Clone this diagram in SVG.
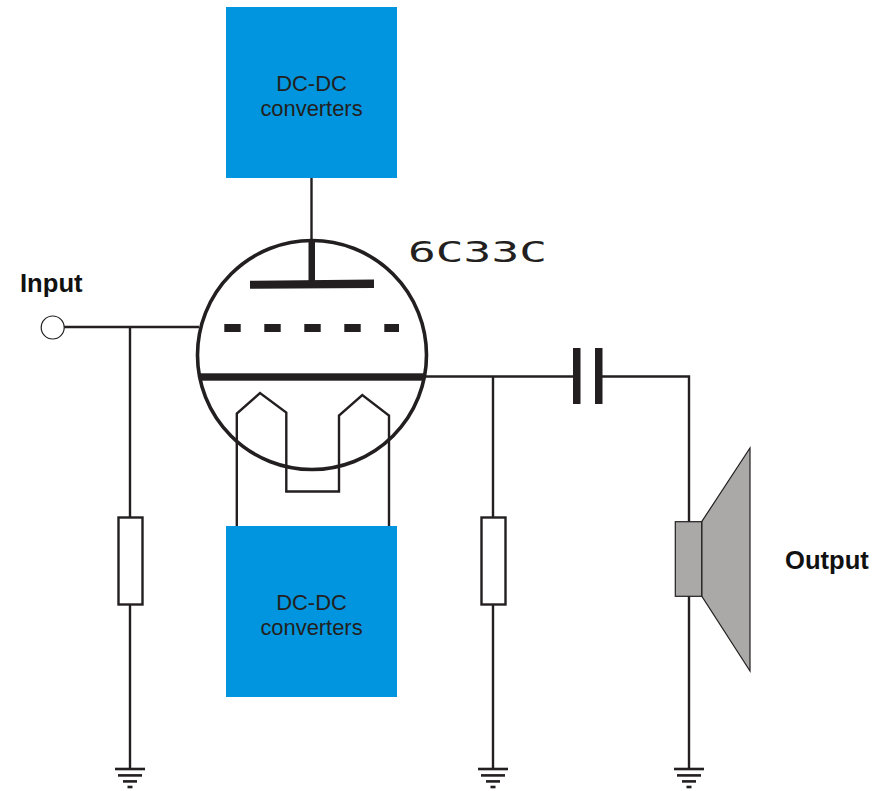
<svg xmlns="http://www.w3.org/2000/svg" width="891" height="791" viewBox="0 0 891 791">
<defs>
<style>
.w{fill:none;stroke:#231f20;stroke-width:2.4}
.k{fill:#231f20}
.box{fill:#0095de}
.lab{font-family:"Liberation Sans",Arial,sans-serif;font-size:21.9px;fill:#231f20;text-anchor:middle}
.big{font-family:"Liberation Sans",Arial,sans-serif;font-size:25.6px;font-weight:bold;fill:#111}
.res{fill:#fff;stroke:#231f20;stroke-width:2.4}
.spk{fill:#aaa9a7;stroke:#231f20;stroke-width:1.2}
</style>
<g id="gnd">
<rect class="k" x="-15" y="0" width="30" height="2.6"/>
<rect class="k" x="-12" y="6.4" width="24" height="2.6"/>
<rect class="k" x="-7" y="12.4" width="14" height="2.6"/>
<rect class="k" x="-2.5" y="18" width="5" height="2.6"/>
</g>
</defs>
<rect width="891" height="791" fill="#fff"/>
<g id="connectors">
<path class="w" d="M64 327H199"/>
<path class="w" d="M130 327V768"/>
<path class="w" d="M311.500 178V242"/>
<path class="w" d="M425 376.500H576"/>
<path class="w" d="M493 376.500V768"/>
<path class="w" d="M602 376.500H689V768"/>
<path class="w" d="M236.800 526V413.500L260 393L286.300 412.500V491.500H339V415.500L362.300 395L389 415.500V526"/>
</g>
<g id="tube">
<circle cx="312" cy="355" r="114.500" fill="none" stroke="#231f20" stroke-width="3.600"/>
<rect class="k" x="308.500" y="241" width="6.500" height="42"/>
<path class="k" d="M250 280.700L374 279.500V288L250 288.800Z"/>
<rect class="k" x="224.300" y="324" width="16.400" height="8"/>
<rect class="k" x="264.300" y="324" width="16.400" height="8"/>
<rect class="k" x="304.300" y="324" width="16.400" height="8"/>
<rect class="k" x="344.300" y="324" width="16.400" height="8"/>
<rect class="k" x="384.300" y="324" width="14.700" height="8"/>
<rect class="k" x="199" y="373.300" width="226" height="7.400"/>
</g>
<text id="tube-label" x="408" y="262" textLength="139" lengthAdjust="spacingAndGlyphs" font-family="'DejaVu Sans Mono','Liberation Mono',monospace" font-size="27.500" fill="#231f20">6C33C</text>
<g id="dc-top">
<rect class="box" x="226" y="7" width="171" height="171"/>
<text class="lab" x="311.500" y="91">DC-DC</text>
<text class="lab" x="311.500" y="116">converters</text>
</g>
<g id="dc-bottom">
<rect class="box" x="226" y="526" width="171" height="171"/>
<text class="lab" x="311.500" y="610">DC-DC</text>
<text class="lab" x="311.500" y="635">converters</text>
</g>
<g id="input">
<circle cx="52.700" cy="327.500" r="11.500" fill="#fff" stroke="#231f20" stroke-width="1.200"/>
<text class="big" x="20" y="292">Input</text>
</g>
<g id="r1"><rect class="res" x="118.500" y="517.500" width="24" height="87"/></g>
<g id="r2"><rect class="res" x="481.500" y="517.500" width="24" height="87"/></g>
<g id="capacitor">
<rect class="k" x="573" y="348" width="7.500" height="56"/>
<rect class="k" x="595" y="348" width="7.500" height="56"/>
</g>
<g id="speaker">
<path class="spk" d="M701.700 521.700L750 448V671L701.700 596Z"/>
<rect class="spk" x="675.300" y="521.700" width="26.400" height="74.600"/>
<text class="big" x="785" y="569">Output</text>
</g>
<g id="ground-1"><use href="#gnd" x="130" y="767.700"/></g>
<g id="ground-2"><use href="#gnd" x="493" y="767.700"/></g>
<g id="ground-3"><use href="#gnd" x="689" y="767.700"/></g>
</svg>
